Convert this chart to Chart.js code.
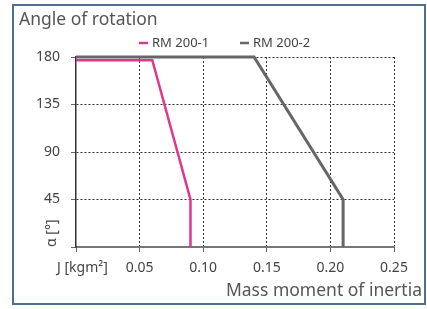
<!DOCTYPE html>
<html lang="en">
<head>
  <meta charset="UTF-8">
  <title>Angle of rotation</title>
  <script src="https://cdn.jsdelivr.net/npm/chart.js"></script>
  <style>
    body { margin: 0; background: #fff; }
    canvas { display: block; }
  </style>
</head>
<body>
  <canvas id="rotChart" width="427" height="309"></canvas>

  <script>
    // series: mass moment of inertia J [kgm²] vs. angle of rotation α [°]
    const seriesNames = ["RM 200-1", "RM 200-2"];
    const seriesColors = ["#e0368e", "#666666"];
    const j1 = [0, 0.06, 0.09, 0.09];
    const a1 = [177, 177, 45, 0];
    const j2 = [0, 0.14, 0.21, 0.21];
    const a2 = [180, 180, 45, 0];
    const xTicks = [0, 0.05, 0.10, 0.15, 0.20, 0.25];
    const yTicks = [0, 45, 90, 135, 180];

    const FONT = "'Noto Sans', sans-serif";
    const toPoints = (xs, ys) => xs.map((x, i) => ({ x: x, y: ys[i] }));

    // frame, title, legend and axis captions
    const decorations = {
      id: "decorations",
      beforeDraw(chart) {
        const c = chart.ctx;
        c.save();
        c.strokeStyle = "#4f6f8f";
        c.lineWidth = 2;
        c.strokeRect(13, 5, 412, 299);
        c.restore();
      },
      afterDraw(chart) {
        const c = chart.ctx;
        const area = chart.chartArea;
        c.save();
        c.fillStyle = "#555";
        c.textBaseline = "middle";
        c.font = "17.5px " + FONT;
        c.textAlign = "left";
        c.fillText("Angle of rotation", 19, 20);
        c.textAlign = "right";
        c.fillText("Mass moment of inertia", 422, 291);

        // legend
        c.font = "13px " + FONT;
        c.textAlign = "left";
        const legendX = [139, 240];
        seriesNames.forEach((name, i) => {
          c.strokeStyle = seriesColors[i];
          c.lineWidth = 2.5;
          c.beginPath();
          c.moveTo(legendX[i], 43);
          c.lineTo(legendX[i] + 9, 43);
          c.stroke();
          c.fillStyle = "#444";
          c.fillText(name, legendX[i] + 13, 43);
        });

        // axis captions in place of the zero labels
        c.font = "14px " + FONT;
        c.fillStyle = "#444";
        c.fillText("J [kgm²]", 57, 268);
        c.translate(52, area.bottom);
        c.rotate(-Math.PI / 2);
        c.fillText("α [°]", 0, 0);
        c.restore();
      }
    };

    const ctx = document.getElementById("rotChart").getContext("2d");
    new Chart(ctx, {
      type: "line",
      data: {
        datasets: [0, 1].map(i => ({
          label: seriesNames[i],
          data: i === 0 ? toPoints(j1, a1) : toPoints(j2, a2),
          borderColor: seriesColors[i],
          borderWidth: i === 0 ? 2.5 : 3,
          pointRadius: 0,
          tension: 0,
          clip: false
        }))
      },
      options: {
        responsive: false,
        animation: false,
        layout: { padding: { left: 0, top: 57, right: 33, bottom: 0 } },
        plugins: {
          legend: { display: false },
          title: { display: false },
          tooltip: { enabled: false }
        },
        scales: {
          x: {
            type: "linear",
            min: 0,
            max: 0.25,
            afterBuildTicks: s => { s.ticks = xTicks.map(v => ({ value: v })); },
            afterFit: s => { s.height = 62; },
            ticks: {
              callback: v => v === 0 ? "" : v.toFixed(2),
              color: "#444",
              font: { family: FONT, size: 14 },
              padding: 8,
              maxRotation: 0
            },
            grid: {
              color: c => c.tick && c.tick.value === 0 ? "rgba(0,0,0,0)" : "#333",
              tickColor: "#666",
              tickLength: 5,
              lineWidth: 1
            },
            border: { color: "#777", width: 2, dash: [2, 2] }
          },
          y: {
            min: 0,
            max: 180,
            afterBuildTicks: s => { s.ticks = yTicks.map(v => ({ value: v })); },
            afterFit: s => { s.width = 76; },
            ticks: {
              callback: v => v === 0 ? "" : String(v),
              color: "#444",
              font: { family: FONT, size: 14 },
              padding: 11
            },
            grid: {
              color: c => c.tick && c.tick.value === 0 ? "rgba(0,0,0,0)" : "#333",
              tickColor: "#666",
              tickLength: 5,
              lineWidth: 1
            },
            border: { color: "#333", width: 1.5, dash: [2, 2] }
          }
        }
      },
      plugins: [decorations]
    });
  </script>
</body>
</html>
